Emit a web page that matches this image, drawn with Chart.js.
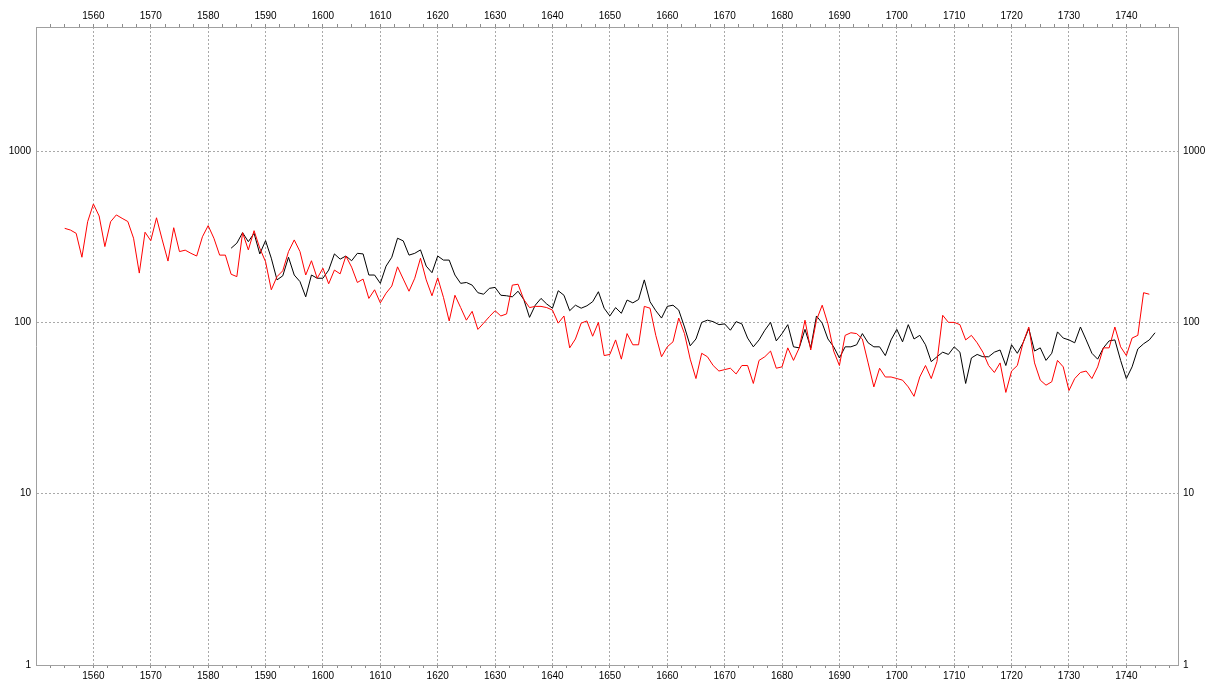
<!DOCTYPE html>
<html>
<head>
<meta charset="utf-8">
<script src="https://cdn.jsdelivr.net/npm/chart.js@4.4.0/dist/chart.umd.min.js"></script>
<style>
body { margin: 0; background: #fff; }
#wrap { width: 1208px; height: 681px; }
</style>
</head>
<body>
<div id="wrap"><canvas id="chart" width="1208" height="681"></canvas></div>
<script>
// red series, one value per year from redStart
var redStart = 1555;
var redValues = [
  354, 346, 331, 240, 387,
  491, 418, 277, 387, 424, 405, 388, 310, 194, 336,
  300, 408, 303, 228, 357, 259, 264, 253, 244, 316,
  367, 310, 247, 247, 191, 185, 334, 265, 343, 271,
  226, 155, 185, 200, 259, 303, 259, 189, 229, 181,
  207, 168, 202, 192, 244, 210, 171, 179, 138, 155,
  130, 148, 163, 211, 179, 152, 181, 237, 177, 143,
  182, 140, 102, 144, 122, 103, 116, 91, 99, 108,
  117, 109, 112, 165, 167, 136, 122, 124, 124, 122,
  118, 99, 109, 71, 80, 99, 102, 83, 100, 64,
  65, 79, 61, 86, 74, 74, 124, 121, 84, 63,
  72, 77, 106, 86, 61, 47, 66, 63, 56, 52,
  53, 54, 50, 56, 56, 44, 60, 63, 68, 54,
  55, 71, 60, 71, 103, 69, 103, 126, 98, 68,
  56, 84, 87, 86, 80, 58, 42, 54, 48, 48,
  47, 46, 42, 37, 48, 56, 47, 59, 110, 100,
  100, 97, 79, 84, 76, 67, 56, 51, 58, 39,
  52, 56, 76, 94, 58, 46, 43, 45, 60, 55,
  40, 47, 51, 52, 47, 55, 71, 71, 94, 72,
  64, 81, 84, 149, 146
];

// black series
var blackStart = 1584;
var blackValues = [
  271, 290, 334, 296, 331, 251,
  300, 237, 177, 187, 240, 189, 173, 141, 189, 181,
  181, 202, 251, 234, 244, 229, 253, 251, 189, 189,
  169, 213, 240, 310, 299, 247, 253, 265, 213, 195,
  244, 231, 231, 189, 169, 171, 165, 149, 146, 158,
  160, 144, 143, 141, 152, 136, 107, 126, 138, 128,
  121, 153, 144, 117, 126, 121, 125, 132, 151, 121,
  109, 122, 113, 135, 130, 136, 177, 132, 117, 106,
  124, 126, 118, 94, 73, 80, 100, 103, 101, 97,
  98, 90, 101, 98, 81, 72, 79, 90, 100, 78,
  86, 97, 72, 71, 91, 71, 109, 99, 80, 72,
  62, 72, 72, 74, 86, 76, 72, 72, 64, 79,
  91, 77, 97, 80, 84, 74, 59, 63, 67, 65,
  72, 67, 44, 62, 65, 63, 63, 67, 69, 56,
  74, 66, 76, 92, 68, 71, 60, 66, 88, 81,
  79, 76, 94, 79, 66, 61, 71, 78, 79, 60,
  47, 55, 70, 75, 79, 87
];

var xTickLabels = [1560, 1570, 1580, 1590, 1600, 1610, 1620, 1630, 1640, 1650,
  1660, 1670, 1680, 1690, 1700, 1710, 1720, 1730, 1740];
var yTickLabels = [1, 10, 100, 1000];

var xMin = 1550, xMax = 1749;
var yMin = 1, yMax = 5300;

function toPoints(start, vals) {
  return vals.map(function (v, i) { return { x: start + i, y: v }; });
}

// every 2.5 years a small tick, labels only on the decades
function xTicks(scale) {
  var t = [];
  for (var v = xMin + 2.5; v < xMax; v += 2.5) t.push({ value: v });
  scale.ticks = t;
}
function isMajor(v) { return xTickLabels.indexOf(v) >= 0; }

var gridGrey = '#a9a9a9';
var tickFont = { family: 'Arial, "Liberation Sans", sans-serif', size: 10 };

function xAxis(pos, h, onArea) {
  return {
    type: 'linear',
    position: pos,
    min: xMin,
    max: xMax,
    afterBuildTicks: xTicks,
    afterFit: function (s) { s.height = h; },
    ticks: {
      autoSkip: false,
      maxRotation: 0,
      padding: 2,
      color: '#000',
      font: tickFont,
      callback: function (v) { return isMajor(v) ? String(v) : ''; }
    },
    grid: {
      drawOnChartArea: onArea,
      drawTicks: true,
      tickLength: 3,
      lineWidth: 1,
      color: function (c) { return c.tick && isMajor(c.tick.value) ? gridGrey : 'rgba(0,0,0,0)'; },
      tickColor: '#8c8c8c'
    },
    border: { display: true, color: '#a0a0a0', dash: [2, 2] }
  };
}

function yAxis(pos, w, onArea) {
  return {
    type: 'logarithmic',
    position: pos,
    min: yMin,
    max: yMax,
    afterBuildTicks: function (s) {
      s.ticks = yTickLabels.map(function (v) { return { value: v }; });
    },
    afterFit: function (s) { s.width = w; },
    ticks: {
      autoSkip: false,
      padding: 5,
      color: '#000',
      font: tickFont,
      callback: function (v) { return String(v); }
    },
    grid: {
      drawOnChartArea: onArea,
      drawTicks: false,
      lineWidth: 1,
      color: function (c) { return c.tick && c.tick.value > yMin ? gridGrey : 'rgba(0,0,0,0)'; }
    },
    border: { display: true, color: '#a0a0a0', dash: [2, 2] }
  };
}

var ctx = document.getElementById('chart');
var chart = new Chart(ctx, {
  type: 'line',
  data: {
    datasets: [
      {
        label: 'red',
        data: toPoints(redStart, redValues),
        borderColor: '#ff0000',
        borderWidth: 1,
        pointRadius: 0,
        tension: 0,
        fill: false
      },
      {
        label: 'black',
        data: toPoints(blackStart, blackValues),
        borderColor: '#000000',
        borderWidth: 1,
        pointRadius: 0,
        tension: 0,
        fill: false
      }
    ]
  },
  options: {
    responsive: false,
    animation: false,
    devicePixelRatio: 1,
    layout: { padding: 0 },
    plugins: {
      legend: { display: false },
      tooltip: { enabled: false }
    },
    scales: {
      x: xAxis('bottom', 16, true),
      xTop: xAxis('top', 27, false),
      y: yAxis('left', 36, true),
      yRight: yAxis('right', 30, false)
    }
  }
});
</script>
</body>
</html>
